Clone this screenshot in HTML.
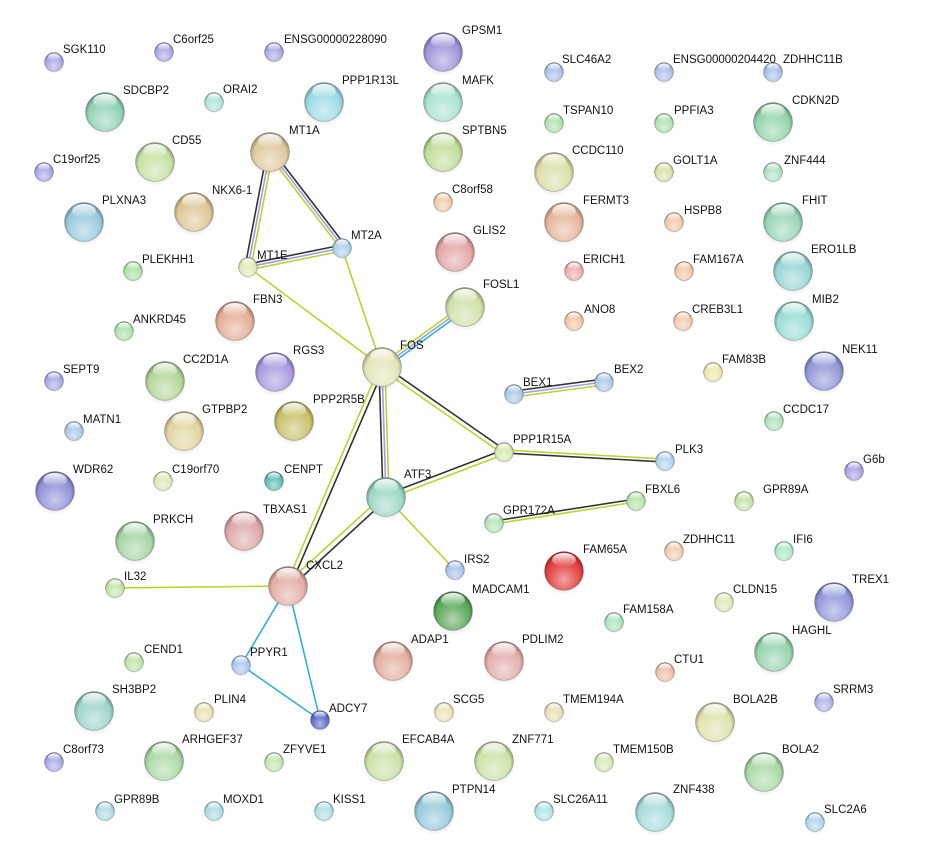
<!DOCTYPE html>
<html><head><meta charset="utf-8"><style>
html,body{margin:0;padding:0;background:#fff}
svg{display:block}
text{font-family:"Liberation Sans",sans-serif;font-size:11.5px;fill:#111}
</style></head><body>
<svg width="925" height="867" viewBox="0 0 925 867" xmlns="http://www.w3.org/2000/svg">
<defs>
<radialGradient id="lt" cx="0.5" cy="0.72" r="0.6">
<stop offset="0" stop-color="#fff" stop-opacity="0.55"/>
<stop offset="0.7" stop-color="#fff" stop-opacity="0.1"/>
<stop offset="1" stop-color="#fff" stop-opacity="0"/>
</radialGradient>
<radialGradient id="rim" cx="0.5" cy="0.55" r="0.55">
<stop offset="0.75" stop-color="#000" stop-opacity="0"/>
<stop offset="1" stop-color="#000" stop-opacity="0.35"/>
</radialGradient>
<linearGradient id="hl" x1="0" y1="0" x2="0" y2="1">
<stop offset="0" stop-color="#fff" stop-opacity="0.95"/>
<stop offset="1" stop-color="#fff" stop-opacity="0"/>
</linearGradient>
<radialGradient id="shd" cx="0.5" cy="0.5" r="0.5">
<stop offset="0" stop-color="#000" stop-opacity="0.3"/>
<stop offset="1" stop-color="#000" stop-opacity="0"/>
</radialGradient>
<g id="s">
<ellipse cx="0" cy="3" rx="10" ry="9" fill="url(#shd)"/>
<circle r="9.5" stroke="#888" stroke-width="0.4"/>
<circle r="9.5" fill="url(#lt)"/>
<circle r="9.5" fill="url(#rim)"/>
<ellipse cx="0" cy="-5" rx="6" ry="3.5" fill="url(#hl)"/>
</g>
<g id="b">
<ellipse cx="0" cy="5" rx="21" ry="19" fill="url(#shd)"/>
<circle r="19.5" stroke="#888" stroke-width="0.4"/>
<circle r="19.5" fill="url(#lt)"/>
<circle r="19.5" fill="url(#rim)"/>
<ellipse cx="0" cy="-11" rx="12" ry="7" fill="url(#hl)"/>
</g>
</defs>

<!-- edges -->
<g fill="none" stroke-width="1.6">
<!-- MT1A-MT1E -->
<line x1="267" y1="152" x2="245" y2="267" stroke="#333"/>
<line x1="270" y1="152" x2="248" y2="267" stroke="#9d9df0"/>
<line x1="273" y1="152" x2="251" y2="267" stroke="#b8d430"/>
<!-- MT1A-MT2A -->
<line x1="272" y1="150" x2="345" y2="245" stroke="#333"/>
<line x1="270" y1="152" x2="343" y2="247" stroke="#9d9df0"/>
<line x1="268" y1="154" x2="341" y2="249" stroke="#b8d430"/>
<!-- MT1E-MT2A -->
<line x1="248" y1="264" x2="342" y2="245" stroke="#333"/>
<line x1="248" y1="267" x2="342" y2="248" stroke="#9d9df0"/>
<line x1="248" y1="270" x2="342" y2="251" stroke="#b8d430"/>
<line x1="248" y1="267" x2="382" y2="367" stroke="#b8d430"/>
<line x1="342" y1="248" x2="382" y2="367" stroke="#b8d430"/>
<!-- FOS-FOSL1 -->
<line x1="380" y1="365" x2="463" y2="305" stroke="#b8d430"/>
<line x1="382" y1="367" x2="465" y2="307" stroke="#9d9df0"/>
<line x1="384" y1="369" x2="467" y2="309" stroke="#30b0e0"/>
<!-- FOS-PPP1R15A -->
<line x1="383" y1="365" x2="505" y2="450" stroke="#333"/>
<line x1="381" y1="369" x2="503" y2="454" stroke="#b8d430"/>
<!-- FOS-ATF3 -->
<line x1="379" y1="367" x2="383" y2="497" stroke="#333"/>
<line x1="382" y1="367" x2="386" y2="497" stroke="#9d9df0"/>
<line x1="385" y1="367" x2="389" y2="497" stroke="#b8d430"/>
<!-- FOS-CXCL2 -->
<line x1="384" y1="368" x2="290" y2="587" stroke="#333"/>
<line x1="380" y1="366" x2="286" y2="585" stroke="#b8d430"/>
<!-- BEX1-BEX2 -->
<line x1="514" y1="391" x2="604" y2="379" stroke="#333"/>
<line x1="514" y1="394" x2="604" y2="382" stroke="#9d9df0"/>
<line x1="514" y1="397" x2="604" y2="385" stroke="#b8d430"/>
<!-- PPP1R15A-PLK3 -->
<line x1="504" y1="450" x2="665" y2="459" stroke="#b8d430"/>
<line x1="504" y1="453" x2="665" y2="462" stroke="#333"/>
<!-- PPP1R15A-ATF3 -->
<line x1="503" y1="450" x2="385" y2="495" stroke="#333"/>
<line x1="505" y1="454" x2="387" y2="499" stroke="#b8d430"/>
<!-- ATF3-CXCL2 -->
<line x1="387" y1="499" x2="290" y2="588" stroke="#333"/>
<line x1="384" y1="495" x2="286" y2="584" stroke="#b8d430"/>
<line x1="386" y1="497" x2="455" y2="570" stroke="#b8d430"/>
<!-- GPR172A-FBXL6 -->
<line x1="494" y1="521" x2="636" y2="499" stroke="#333"/>
<line x1="494" y1="524" x2="636" y2="502" stroke="#b8d430"/>
<line x1="115" y1="588" x2="288" y2="586" stroke="#b8d430"/>
<line x1="288" y1="586" x2="241" y2="665" stroke="#30b0d8"/>
<line x1="288" y1="586" x2="320" y2="720" stroke="#30b0d8"/>
<line x1="241" y1="665" x2="320" y2="720" stroke="#30b0d8"/>
</g>

<!-- nodes -->
<g>
<use href="#s" x="54" y="62" fill="#a2a2e4"/>
<use href="#s" x="164" y="52" fill="#a2a2e4"/>
<use href="#s" x="274" y="52" fill="#a2a2e4"/>
<use href="#b" x="443" y="52" fill="#9a90d8"/>
<use href="#s" x="554" y="72" fill="#a6bce6"/>
<use href="#s" x="664" y="72" fill="#a6bce6"/>
<use href="#s" x="773" y="72" fill="#a6bce6"/>
<use href="#b" x="105" y="112" fill="#8ed0b2"/>
<use href="#s" x="214" y="102" fill="#a6e2d8"/>
<use href="#b" x="324" y="102" fill="#98dae2"/>
<use href="#b" x="443" y="102" fill="#a6e2d2"/>
<use href="#s" x="554" y="123" fill="#a8e0a8"/>
<use href="#s" x="664" y="123" fill="#a8e0a8"/>
<use href="#b" x="773" y="122" fill="#8fd3a8"/>
<use href="#s" x="44" y="172" fill="#a2a2e4"/>
<use href="#b" x="155" y="162" fill="#c4e0a0"/>
<use href="#b" x="270" y="152" fill="#dcc79a"/>
<use href="#b" x="443" y="152" fill="#bedc94"/>
<use href="#b" x="554" y="172" fill="#dcdca4"/>
<use href="#s" x="664" y="172" fill="#d8dca2"/>
<use href="#s" x="773" y="172" fill="#a8e0c0"/>
<use href="#s" x="443" y="202" fill="#ecc8a2"/>
<use href="#b" x="84" y="222" fill="#94c8dc"/>
<use href="#b" x="194" y="212" fill="#dcc492"/>
<use href="#b" x="564" y="222" fill="#e4b498"/>
<use href="#s" x="674" y="222" fill="#f0c4a4"/>
<use href="#b" x="783" y="222" fill="#96d4b4"/>
<use href="#s" x="342" y="248" fill="#a6cceb"/>
<use href="#s" x="248" y="267" fill="#e0e8b2"/>
<use href="#b" x="455" y="252" fill="#e2a2a2"/>
<use href="#s" x="133" y="271" fill="#a8e0a0"/>
<use href="#s" x="574" y="271" fill="#eaa8a8"/>
<use href="#s" x="684" y="271" fill="#f0c2a2"/>
<use href="#b" x="793" y="271" fill="#94d4d4"/>
<use href="#b" x="465" y="307" fill="#cde0a4"/>
<use href="#s" x="124" y="331" fill="#a8e0a8"/>
<use href="#b" x="235" y="321" fill="#e4aa92"/>
<use href="#s" x="574" y="321" fill="#f0c2a2"/>
<use href="#s" x="683" y="321" fill="#f0c8a8"/>
<use href="#b" x="794" y="321" fill="#94dcd4"/>
<use href="#b" x="382" y="367" fill="#e4e4b4"/>
<use href="#s" x="54" y="381" fill="#a2a2e4"/>
<use href="#b" x="165" y="381" fill="#b2d496"/>
<use href="#b" x="275" y="372" fill="#a894e0"/>
<use href="#s" x="713" y="372" fill="#ece4a2"/>
<use href="#b" x="824" y="371" fill="#8c92d4"/>
<use href="#s" x="514" y="394" fill="#a6c4e6"/>
<use href="#s" x="604" y="382" fill="#a6c4e6"/>
<use href="#s" x="74" y="431" fill="#a6c4e6"/>
<use href="#b" x="184" y="431" fill="#e0d29c"/>
<use href="#b" x="294" y="421" fill="#c6bf62"/>
<use href="#s" x="774" y="421" fill="#a8e0b8"/>
<use href="#s" x="504" y="452" fill="#d4e8a6"/>
<use href="#s" x="665" y="461" fill="#aad0ee"/>
<use href="#s" x="163" y="481" fill="#d8e8b0"/>
<use href="#s" x="274" y="481" fill="#58b8b0"/>
<use href="#b" x="386" y="497" fill="#98d6c4"/>
<use href="#s" x="854" y="471" fill="#a49ae2"/>
<use href="#b" x="55" y="491" fill="#8c8cd8"/>
<use href="#s" x="636" y="501" fill="#b0e2a2"/>
<use href="#s" x="744" y="501" fill="#c2e2a2"/>
<use href="#s" x="494" y="523" fill="#b0e2b2"/>
<use href="#b" x="135" y="541" fill="#a2d4a2"/>
<use href="#b" x="244" y="531" fill="#dca4a4"/>
<use href="#s" x="674" y="551" fill="#f0c8a8"/>
<use href="#s" x="784" y="551" fill="#a8e8c2"/>
<use href="#b" x="564" y="571" fill="#e03434"/>
<use href="#s" x="455" y="570" fill="#a4bceb"/>
<use href="#b" x="288" y="586" fill="#e2aaa2"/>
<use href="#s" x="115" y="588" fill="#c0e2a2"/>
<use href="#s" x="724" y="602" fill="#d8e8b0"/>
<use href="#b" x="834" y="602" fill="#8c94d8"/>
<use href="#b" x="453" y="611" fill="#52a452"/>
<use href="#s" x="614" y="622" fill="#a2e2ba"/>
<use href="#b" x="393" y="661" fill="#e2aa9a"/>
<use href="#b" x="504" y="661" fill="#e2aaaa"/>
<use href="#b" x="774" y="652" fill="#92d2aa"/>
<use href="#s" x="134" y="662" fill="#b8e2a2"/>
<use href="#s" x="241" y="665" fill="#a6c2ea"/>
<use href="#s" x="665" y="672" fill="#eabaa2"/>
<use href="#b" x="94" y="711" fill="#9ad2ca"/>
<use href="#s" x="204" y="712" fill="#e8e0aa"/>
<use href="#s" x="444" y="712" fill="#eae2b2"/>
<use href="#s" x="554" y="712" fill="#eadab2"/>
<use href="#b" x="715" y="722" fill="#e0e0aa"/>
<use href="#s" x="320" y="720" fill="#5262c2"/>
<use href="#s" x="824" y="702" fill="#aaaae8"/>
<use href="#s" x="54" y="762" fill="#a2a2e4"/>
<use href="#b" x="164" y="761" fill="#a8d8a2"/>
<use href="#s" x="274" y="762" fill="#c2e2aa"/>
<use href="#b" x="384" y="761" fill="#c8e2a2"/>
<use href="#b" x="494" y="761" fill="#c8e2a2"/>
<use href="#s" x="604" y="762" fill="#d0e8b2"/>
<use href="#b" x="764" y="772" fill="#a6d8a2"/>
<use href="#s" x="105" y="811" fill="#a8d8e2"/>
<use href="#s" x="214" y="811" fill="#a8d8e2"/>
<use href="#s" x="324" y="811" fill="#a8dce2"/>
<use href="#b" x="434" y="811" fill="#92c8da"/>
<use href="#s" x="544" y="811" fill="#a8e2e2"/>
<use href="#b" x="655" y="812" fill="#a2dada"/>
<use href="#s" x="815" y="822" fill="#a8d2ea"/>
</g>

<!-- labels -->
<g>
<text x="63" y="53">SGK110</text>
<text x="173" y="43">C6orf25</text>
<text x="284" y="43">ENSG00000228090</text>
<text x="462" y="34">GPSM1</text>
<text x="562" y="63">SLC46A2</text>
<text x="673" y="63">ENSG00000204420</text>
<text x="783" y="63">ZDHHC11B</text>
<text x="123" y="94">SDCBP2</text>
<text x="223" y="93">ORAI2</text>
<text x="342" y="84">PPP1R13L</text>
<text x="462" y="84">MAFK</text>
<text x="563" y="114">TSPAN10</text>
<text x="674" y="114">PPFIA3</text>
<text x="792" y="104">CDKN2D</text>
<text x="53" y="163">C19orf25</text>
<text x="172" y="144">CD55</text>
<text x="289" y="134">MT1A</text>
<text x="462" y="134">SPTBN5</text>
<text x="572" y="154">CCDC110</text>
<text x="673" y="164">GOLT1A</text>
<text x="784" y="164">ZNF444</text>
<text x="452" y="193">C8orf58</text>
<text x="102" y="204">PLXNA3</text>
<text x="212" y="194">NKX6-1</text>
<text x="583" y="204">FERMT3</text>
<text x="684" y="214">HSPB8</text>
<text x="802" y="204">FHIT</text>
<text x="351" y="239">MT2A</text>
<text x="257" y="259">MT1E</text>
<text x="473" y="234">GLIS2</text>
<text x="142" y="263">PLEKHH1</text>
<text x="583" y="263">ERICH1</text>
<text x="693" y="263">FAM167A</text>
<text x="811" y="253">ERO1LB</text>
<text x="483" y="288">FOSL1</text>
<text x="133" y="323">ANKRD45</text>
<text x="253" y="303">FBN3</text>
<text x="584" y="313">ANO8</text>
<text x="692" y="313">CREB3L1</text>
<text x="812" y="303">MIB2</text>
<text x="400" y="349">FOS</text>
<text x="63" y="373">SEPT9</text>
<text x="183" y="363">CC2D1A</text>
<text x="293" y="354">RGS3</text>
<text x="722" y="363">FAM83B</text>
<text x="842" y="353">NEK11</text>
<text x="523" y="386">BEX1</text>
<text x="614" y="373">BEX2</text>
<text x="83" y="423">MATN1</text>
<text x="202" y="413">GTPBP2</text>
<text x="313" y="403">PPP2R5B</text>
<text x="783" y="413">CCDC17</text>
<text x="513" y="443">PPP1R15A</text>
<text x="675" y="453">PLK3</text>
<text x="172" y="473">C19orf70</text>
<text x="284" y="473">CENPT</text>
<text x="404" y="478">ATF3</text>
<text x="863" y="463">G6b</text>
<text x="73" y="473">WDR62</text>
<text x="645" y="493">FBXL6</text>
<text x="763" y="493">GPR89A</text>
<text x="503" y="514">GPR172A</text>
<text x="153" y="523">PRKCH</text>
<text x="263" y="513">TBXAS1</text>
<text x="683" y="543">ZDHHC11</text>
<text x="793" y="543">IFI6</text>
<text x="583" y="553">FAM65A</text>
<text x="464" y="563">IRS2</text>
<text x="306" y="569">CXCL2</text>
<text x="124" y="580">IL32</text>
<text x="733" y="593">CLDN15</text>
<text x="852" y="583">TREX1</text>
<text x="472" y="593">MADCAM1</text>
<text x="623" y="613">FAM158A</text>
<text x="411" y="643">ADAP1</text>
<text x="522" y="643">PDLIM2</text>
<text x="792" y="634">HAGHL</text>
<text x="144" y="653">CEND1</text>
<text x="250" y="656">PPYR1</text>
<text x="674" y="663">CTU1</text>
<text x="112" y="693">SH3BP2</text>
<text x="214" y="703">PLIN4</text>
<text x="453" y="703">SCG5</text>
<text x="563" y="703">TMEM194A</text>
<text x="733" y="703">BOLA2B</text>
<text x="329" y="712">ADCY7</text>
<text x="833" y="693">SRRM3</text>
<text x="63" y="753">C8orf73</text>
<text x="182" y="743">ARHGEF37</text>
<text x="283" y="753">ZFYVE1</text>
<text x="402" y="743">EFCAB4A</text>
<text x="512" y="743">ZNF771</text>
<text x="613" y="753">TMEM150B</text>
<text x="782" y="753">BOLA2</text>
<text x="114" y="803">GPR89B</text>
<text x="223" y="803">MOXD1</text>
<text x="333" y="803">KISS1</text>
<text x="452" y="793">PTPN14</text>
<text x="553" y="803">SLC26A11</text>
<text x="673" y="793">ZNF438</text>
<text x="824" y="813">SLC2A6</text>
</g>
</svg>
</body></html>
